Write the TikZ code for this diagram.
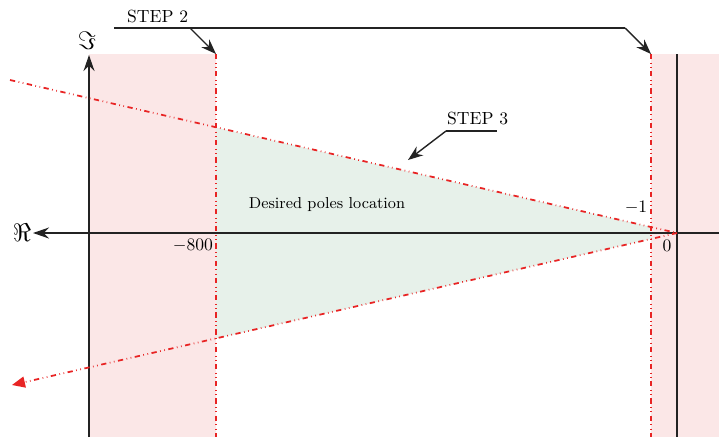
\documentclass[tikz,border=0pt]{standalone}
\usepackage{xcolor}
\usepackage{tikz}
\usetikzlibrary{arrows.meta,positioning,calc}
\definecolor{stabpink}{RGB}{251,231,231}
\definecolor{poleGreen}{RGB}{231,241,234}
\definecolor{boundred}{RGB}{232,36,36}
\definecolor{axisgray}{RGB}{35,35,35}

\begin{document}
\begin{tikzpicture}[x=0.02cm,y=-0.02cm,
    font=\fontsize{10}{12}\selectfont,
    axis/.style={draw=axisgray,line width=0.9pt},
    bound/.style={draw=boundred,dash dot dot,line width=1pt},
    callout/.style={draw=axisgray,line width=0.8pt},
    lbl/.style={inner sep=1pt}
  ]
  \useasboundingbox (0,0) rectangle (719,440);

  % key points of the plane
  \coordinate (O) at (677,233);
  \coordinate (rayA) at (10,80);
  \coordinate (rayB) at (12,385);
  \coordinate (c800top) at (216,54);
  \coordinate (c800bot) at (216,437);
  \coordinate (c1top) at (651,54);
  \coordinate (c1bot) at (651,437);

  % regions
  \fill[stabpink] (89,54) rectangle (c800bot);
  \fill[stabpink] (c1top) rectangle (719,437);
  \fill[poleGreen] (216,127.5) -- (651,227) -- (651,239) -- (216,338.5) -- cycle;

  % axes
  \draw[axis,-{Stealth[length=3.2mm,width=2.2mm]}] (89,437) -- (89,55) coordinate (imtop);
  \draw[axis,-{Stealth[length=3.2mm,width=2.2mm]}] (719,233) -- (33,233) coordinate (retip);
  \draw[axis] (677,54) -- (677,437);

  % bounds
  \draw[bound] (c800top) -- (c800bot);
  \draw[bound] (c1top) -- (c1bot);
  \draw[bound] (rayA) -- (O);
  \draw[bound,-{Triangle[length=2.6mm,width=2.2mm]}] (O) -- (rayB);

  % labels
  \node[lbl] (imlbl) at (87,41) {\Large$\Im$};
  \node[lbl] (relbl) at (22,233) {\Large$\Re$};
  \node[lbl] (m800) at (193,246) {$-800$};
  \node[lbl] (m1) at (636,208) {$-1$};
  \node[lbl] (zero) at (667,246) {$0$};
  \node[lbl,font=\fontsize{9}{11}\selectfont] (desired) at (327,205) {Desired poles location};

  % callouts
  \node[lbl,anchor=south west] (step2) at (125,25) {STEP 2};
  \coordinate (s2a) at (190,28);
  \coordinate (s2b) at (625,28);
  \draw[callout] (114,28) -- (s2b);
  \draw[callout,-{Stealth[length=3mm,width=2.2mm]}] (s2a) -- (c800top);
  \draw[callout,-{Stealth[length=3mm,width=2.2mm]}] (s2b) -- (c1top);

  \node[lbl,anchor=south west] (step3) at (445,127) {STEP 3};
  \coordinate (s3a) at (446,131);
  \draw[callout] (s3a) -- (497,131);
  \draw[callout,-{Stealth[length=3mm,width=2.2mm]}] (s3a) -- (408,160);
\end{tikzpicture}
\end{document}
